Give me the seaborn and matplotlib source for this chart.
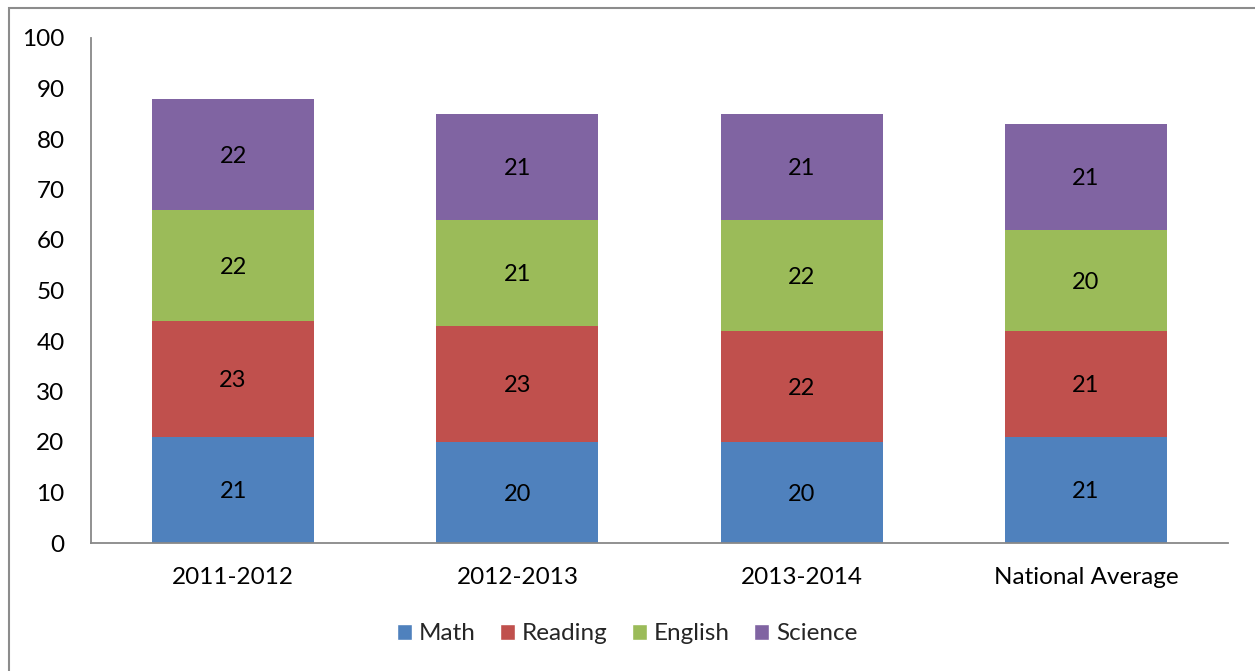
import numpy as np
import pandas as pd
import matplotlib
matplotlib.use('Agg')
import matplotlib.pyplot as plt
import seaborn as sns
from matplotlib.patches import Rectangle, Patch

# Data
categories = ['2011-2012', '2012-2013', '2013-2014', 'National Average']
math = [21, 20, 20, 21]
reading = [23, 23, 22, 21]
english = [22, 21, 22, 20]
science = [22, 21, 21, 21]

subjects = ['Math', 'Reading', 'English', 'Science']
colors = ['#4F81BD', '#C0504D', '#9BBB59', '#8064A2']

df = pd.DataFrame({'Year': categories, 'Math': math, 'Reading': reading,
                   'English': english, 'Science': science})

sns.set_style('white')
plt.rcParams['font.family'] = ['Lato', 'DejaVu Sans']

fig = plt.figure(figsize=(12.55, 6.71), dpi=100)
ax = fig.add_axes([91/1255, 128/671, 1137/1255, 505/671])

# cumulative totals, drawn from top layer down so each covers the one below
cum = df[subjects].cumsum(axis=1)
for subj, col in reversed(list(zip(subjects, colors))):
    sns.barplot(x=df['Year'], y=cum[subj], color=col, width=0.57,
                saturation=1, ax=ax, linewidth=0)

# value labels in middle of each segment
for i in range(len(categories)):
    base = 0
    for subj in subjects:
        v = df.loc[i, subj]
        ax.text(i, base + v / 2 - 0.4, str(v), ha='center', va='center',
                fontsize=17, color='black')
        base += v

ax.set_ylim(0, 100)
ax.set_yticks(range(0, 101, 10))
ax.set_xlabel('')
ax.set_ylabel('')
ax.tick_params(axis='both', length=0, labelsize=17.5, colors='black')
ax.tick_params(axis='y', pad=19)
ax.tick_params(axis='x', pad=17)
for s in ['top', 'right']:
    ax.spines[s].set_visible(False)
for s in ['left', 'bottom']:
    ax.spines[s].set_color('#888888')
    ax.spines[s].set_linewidth(1.3)

handles = [Patch(facecolor=c, label=s) for s, c in zip(subjects, colors)]
fig.legend(handles=handles, loc='center', bbox_to_anchor=(0.5, 1 - 634/671),
           ncol=4, frameon=False, fontsize=17.5, handlelength=0.6,
           handleheight=0.6, handletextpad=0.3, columnspacing=1.0)

# outer chart border
fig.patches.append(Rectangle((9/1255, -0.1), 1.2, 1.1 - 8/671,
                             transform=fig.transFigure, fill=False,
                             edgecolor='#8c8c8c', linewidth=1.5))

fig.savefig('out.png', dpi=100)
